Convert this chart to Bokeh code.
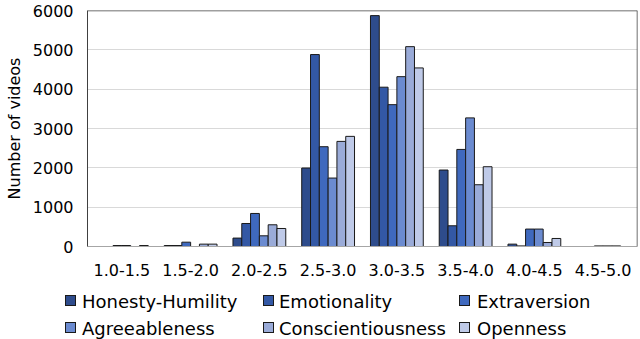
from bokeh.plotting import figure
from bokeh.models import (FactorRange, Range1d, ColumnDataSource, Span, FixedTicker, Div)
from bokeh.transform import dodge
from bokeh.layouts import column
from bokeh.embed import file_html
from bokeh.resources import INLINE

# ---------------- data ----------------
categories = ["1.0-1.5", "1.5-2.0", "2.0-2.5", "2.5-3.0",
              "3.0-3.5", "3.5-4.0", "4.0-4.5", "4.5-5.0"]
series_names = ["Honesty-Humility", "Emotionality", "Extraversion",
                "Agreeableness", "Conscientiousness", "Openness"]
honesty_humility = [0, 25, 214, 1995, 5870, 1944, 60, 0]
emotionality = [0, 25, 585, 4880, 4050, 527, 15, 0]
extraversion = [25, 110, 840, 2537, 3606, 2468, 443, 15]
agreeableness = [25, 0, 272, 1740, 4318, 3270, 443, 15]
conscientiousness = [0, 60, 552, 2672, 5081, 1570, 102, 15]
openness = [25, 60, 458, 2800, 4540, 2028, 204, 0]
y_ticks = [0, 1000, 2000, 3000, 4000, 5000, 6000]
y_label = "Number of videos"

series_values = [honesty_humility, emotionality, extraversion,
                 agreeableness, conscientiousness, openness]
colors = ["#2E4C8C", "#3358A5", "#3F69BE", "#6B8BD0", "#9AABD8", "#BFCAE8"]

FONT = "DejaVu Sans"
W = 640
H_PLOT = 285
H_LEG = 54
FRAME_LEFT = 87
FRAME_RIGHT = 637
FRAME_TOP = 10
FRAME_BOTTOM = 246

p = figure(x_range=FactorRange(*categories, range_padding=0),
           y_range=Range1d(0, 6000),
           width=W, height=H_PLOT, output_backend="svg", toolbar_location=None,
           min_border_left=FRAME_LEFT, min_border_right=W - FRAME_RIGHT,
           min_border_top=FRAME_TOP, min_border_bottom=H_PLOT - FRAME_BOTTOM)
p.outline_line_color = None

bar_w = 0.128
for i, (name, vals, col) in enumerate(zip(series_names, series_values, colors)):
    src = ColumnDataSource(dict(cat=categories, top=vals,
                                la=[1.0 if v > 0 else 0.0 for v in vals]))
    p.vbar(x=dodge("cat", (i - 2.5) * bar_w, range=p.x_range), top="top",
           width=bar_w, bottom=0, source=src, fill_color=col,
           line_color="#1a1a1a", line_alpha="la", line_width=1)

p.add_layout(Span(location=6000, dimension="width", line_color="#404040", line_width=1.5))
p.add_layout(Span(location=len(categories), dimension="height", line_color="#404040", line_width=1.5))

p.xgrid.grid_line_color = None
p.ygrid.grid_line_color = "#d9d9d9"
p.ygrid.grid_line_width = 1

p.yaxis.ticker = FixedTicker(ticks=y_ticks)
p.yaxis.axis_label = y_label
p.yaxis.axis_label_text_font = FONT
p.yaxis.axis_label_text_font_size = "16px"
p.yaxis.axis_label_text_font_style = "normal"
p.yaxis.axis_label_text_color = "#000000"
p.yaxis.axis_label_standoff = 6
p.yaxis.major_label_standoff = 14
p.yaxis.axis_line_color = "#404040"

for ax in (p.xaxis, p.yaxis):
    ax.major_tick_line_color = None
    ax.minor_tick_line_color = None
    ax.major_tick_out = 0
    ax.major_tick_in = 0
    ax.major_label_text_font = FONT
    ax.major_label_text_font_size = "16px"
    ax.major_label_text_color = "#000000"

p.xaxis.axis_line_color = "#a6a6a6"
p.xaxis.major_label_standoff = 17

# ---------------- legend (HTML, below the plot) ----------------
col_sq = [65, 263, 459]
col_tx = [82, 279, 477]
row_cy = [301 - H_PLOT, 328 - H_PLOT]
parts = []
for k, (name, col) in enumerate(zip(series_names, colors)):
    r, c = divmod(k, 3)
    cy = row_cy[r]
    parts.append(
        f'<span style="position:absolute;left:{col_sq[c]}px;top:{cy - 6.5}px;'
        f'width:11px;height:11px;background:{col};border:1px solid #1a1a1a;"></span>')
    parts.append(
        f'<span style="position:absolute;left:{col_tx[c]}px;top:{cy - 10.2}px;'
        f'line-height:21px;white-space:nowrap;">{name}</span>')
legend_html = (f'<div style="position:relative;width:{W}px;height:{H_LEG}px;'
               f'font-family:\'{FONT}\';font-size:18px;color:#000;">'
               + "".join(parts) + '</div>')
leg = Div(text=legend_html, width=W, height=H_LEG, margin=0)

layout = column(p, leg, spacing=0)
open("out.html", "w").write(file_html(layout, INLINE))
